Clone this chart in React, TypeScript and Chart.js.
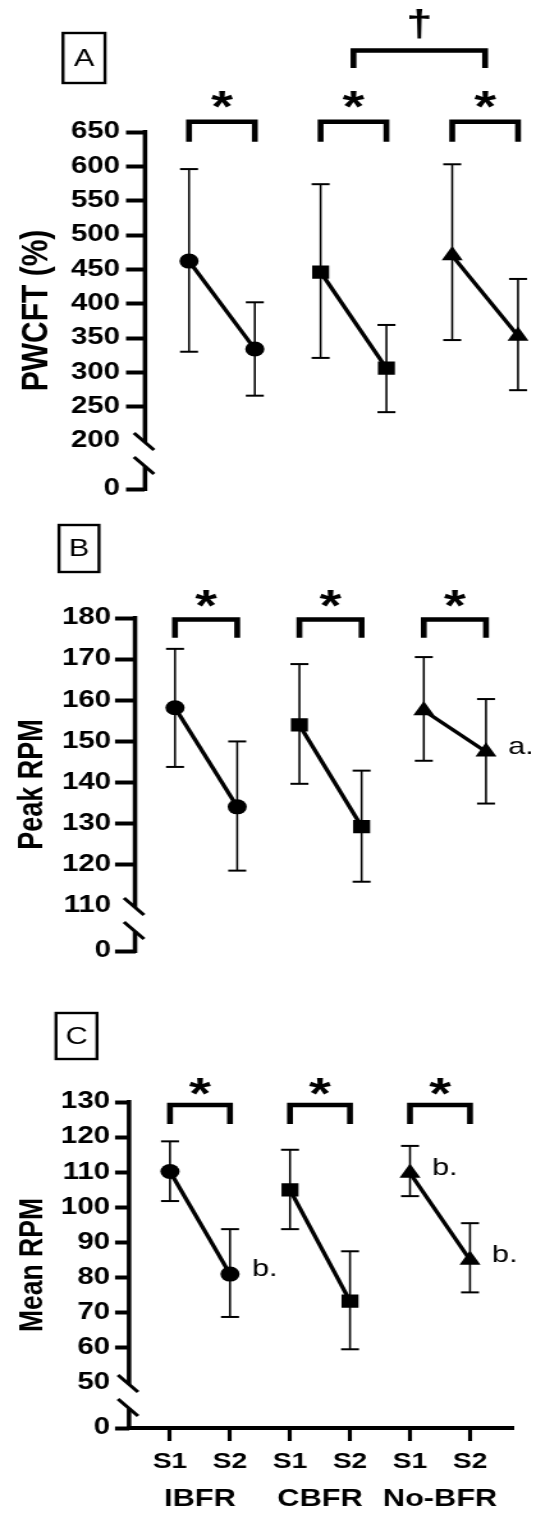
import React, { useEffect, useRef } from 'react';
import { Chart, registerables } from 'chart.js';

Chart.register(...registerables);

const PAGE_W = 559;
const PAGE_H = 1524;
const CW = 437;
const SX = PAGE_W / CW; // the figure is drawn horizontally stretched
const FONT = '"Liberation Sans", Arial, Helvetica, sans-serif';

// ---------- data ----------
const sessionLabels = ['S1', 'S2', 'S1', 'S2', 'S1', 'S2'];
const groupLabels = ['IBFR', 'CBFR', 'No-BFR'];
const markerStyles = ['circle', 'rect', 'triangle'];
const markerRadius = [7.5, 9.4, 9.5];

const pwcftMean = [462, 334, 446, 306, 470, 353];
const pwcftUpper = [596, 402, 574, 369, 603, 436];
const pwcftLower = [330, 266, 321, 242, 347, 274];
const pwcftTicks = [200, 250, 300, 350, 400, 450, 500, 550, 600, 650];

const peakMean = [158.2, 134.1, 154.0, 129.3, 157.5, 147.5];
const peakUpper = [172.5, 150.0, 168.8, 142.9, 170.5, 160.3];
const peakLower = [143.8, 118.6, 139.7, 115.9, 145.3, 134.9];
const peakTicks = [110, 120, 130, 140, 150, 160, 170, 180];

const meanRpmMean = [110.2, 81.0, 105.0, 73.3, 109.8, 85.0];
const meanRpmUpper = [118.8, 93.8, 116.4, 87.5, 117.5, 95.5];
const meanRpmLower = [101.8, 68.8, 93.8, 59.6, 103.2, 75.8];
const meanRpmTicks = [50, 60, 70, 80, 90, 100, 110, 120, 130];

const pwcftStars = ['*', '*', '*'];
const peakStars = ['*', '*', '*'];
const meanRpmStars = ['*', '*', '*'];
const pwcftBetween = { from: 1, to: 2, mark: '\u2020' };
const peakNotes = [{ index: 5, text: 'a.' }];
const meanRpmNotes = [
  { index: 1, text: 'b.' },
  { index: 4, text: 'b.' },
  { index: 5, text: 'b.' },
];

// ---------- layout (page pixels) ----------
const panels: any[] = [
  {
    id: 'A', letter: 'A', title: 'PWCFT (%)',
    mean: pwcftMean, upper: pwcftUpper, lower: pwcftLower, ticks: pwcftTicks,
    stars: pwcftStars, between: pwcftBetween, notes: [], showX: false,
    top: 0, height: 520,
    axisX: 145, chartTop: 132, breakY: 441, chartBottom: 489,
    firstX: 189, stepX: 65.8, rightX: 545,
    tickLen: 19, tickPad: 6, tickFont: 23,
    titleX: 37, titleFont: 30,
    box: [63, 33, 42, 50],
    bracketTop: -10.3, bracketLeg: 9.7, starY: -34.5,
    betweenTop: -81.5, betweenLeg: -64, betweenMarkY: -106, betweenFont: 37,
  },
  {
    id: 'B', letter: 'B', title: 'Peak RPM',
    mean: peakMean, upper: peakUpper, lower: peakLower, ticks: peakTicks,
    stars: peakStars, between: null, notes: peakNotes, showX: false,
    top: 520, height: 480,
    axisX: 135, chartTop: 618, breakY: 906, chartBottom: 951,
    firstX: 175, stepX: 62.2, rightX: 530,
    tickLen: 20, tickPad: 4, tickFont: 23,
    titleX: 33, titleFont: 27,
    box: [59, 525, 40, 47],
    bracketTop: 1.5, bracketLeg: 19.7, starY: -22,
  },
  {
    id: 'C', letter: 'C', title: 'Mean RPM',
    mean: meanRpmMean, upper: meanRpmUpper, lower: meanRpmLower, ticks: meanRpmTicks,
    stars: meanRpmStars, between: null, notes: meanRpmNotes, showX: true,
    top: 1000, height: 524,
    axisX: 129, chartTop: 1102, breakY: 1383, chartBottom: 1428,
    firstX: 170, stepX: 60, rightX: 513,
    tickLen: 14, tickPad: 5, tickFont: 23,
    titleX: 33, titleFont: 26.5,
    box: [56, 1013, 41, 46],
    bracketTop: 3, bracketLeg: 22, starY: -18,
    groupY: 1499,
  },
];

function line(ctx: CanvasRenderingContext2D, x1: number, y1: number, x2: number, y2: number) {
  ctx.beginPath();
  ctx.moveTo(x1, y1);
  ctx.lineTo(x2, y2);
  ctx.stroke();
}

function bracket(ctx: CanvasRenderingContext2D, x1: number, x2: number, top: number, leg: number) {
  ctx.beginPath();
  ctx.moveTo(x1, leg);
  ctx.lineTo(x1, top);
  ctx.lineTo(x2, top);
  ctx.lineTo(x2, leg);
  ctx.stroke();
}

function makeDecor(p: any) {
  return {
    id: 'decor' + p.id,
    beforeDatasetsDraw(chart: any) {
      const ctx = chart.ctx as CanvasRenderingContext2D;
      const xs = chart.scales.x;
      const ys = chart.scales.y;
      ctx.save();
      ctx.strokeStyle = '#000';
      ctx.lineCap = 'butt';
      p.mean.forEach((_m: number, i: number) => {
        const x = xs.getPixelForValue(i);
        const yU = ys.getPixelForValue(p.upper[i]);
        const yL = ys.getPixelForValue(p.lower[i]);
        ctx.lineWidth = 2 / SX;
        line(ctx, x, yU, x, yL);
        ctx.lineWidth = 2;
        const hw = 9 / SX;
        line(ctx, x - hw, yU, x + hw, yU);
        line(ctx, x - hw, yL, x + hw, yL);
      });
      ctx.restore();
    },
    afterDraw(chart: any) {
      const ctx = chart.ctx as CanvasRenderingContext2D;
      const area = chart.chartArea;
      const xs = chart.scales.x;
      const ys = chart.scales.y;
      const y0 = chart.scales.y0;
      const ax = area.left;
      ctx.save();
      ctx.strokeStyle = '#000';
      ctx.fillStyle = '#000';
      ctx.lineCap = 'butt';

      // broken y axis
      const b = ys.bottom;
      ctx.lineWidth = 4.5 / SX;
      line(ctx, ax, ys.getPixelForValue(ys.max) - 2, ax, b + 1.3);
      line(ctx, ax, b + 25.3, ax, y0.getPixelForValue(0) + 2);
      ctx.lineWidth = 3;
      line(ctx, ax - 11 / SX, b - 8, ax + 9 / SX, b + 9);
      line(ctx, ax - 11 / SX, b + 16, ax + 9 / SX, b + 33);

      // significance brackets
      const t0 = area.top;
      ctx.lineJoin = 'miter';
      p.stars.forEach((s: string, g: number) => {
        const x1 = xs.getPixelForValue(2 * g);
        const x2 = xs.getPixelForValue(2 * g + 1);
        ctx.lineWidth = 4.6;
        bracket(ctx, x1, x2, t0 + p.bracketTop, t0 + p.bracketLeg);
        ctx.font = `bold 44px ${FONT}`;
        ctx.textAlign = 'center';
        ctx.textBaseline = 'alphabetic';
        ctx.fillText(s, (x1 + x2) / 2, t0 + p.starY + 0.56 * 44);
      });
      if (p.between) {
        const f = p.between.from, t = p.between.to;
        const xa = (xs.getPixelForValue(2 * f) + xs.getPixelForValue(2 * f + 1)) / 2;
        const xb = (xs.getPixelForValue(2 * t) + xs.getPixelForValue(2 * t + 1)) / 2;
        ctx.lineWidth = 4.6;
        bracket(ctx, xa, xb, t0 + p.betweenTop, t0 + p.betweenLeg);
        ctx.font = `bold ${p.betweenFont}px ${FONT}`;
        ctx.textAlign = 'center';
        ctx.textBaseline = 'alphabetic';
        ctx.fillText(p.between.mark, (xa + xb) / 2, t0 + p.betweenMarkY + 0.28 * p.betweenFont);
      }

      // panel letter box
      const [bx, by, bw, bh] = p.box;
      ctx.lineWidth = 2.4;
      ctx.strokeRect(bx / SX, by - p.top, bw / SX, bh);
      ctx.font = `24px ${FONT}`;
      ctx.textAlign = 'center';
      ctx.textBaseline = 'middle';
      ctx.fillText(p.letter, (bx + bw / 2) / SX, by - p.top + bh / 2 + 1);

      // y title
      ctx.save();
      ctx.translate(p.titleX / SX, (area.top + area.bottom) / 2);
      ctx.rotate(-Math.PI / 2);
      ctx.font = `bold ${p.titleFont}px ${FONT}`;
      ctx.textAlign = 'center';
      ctx.textBaseline = 'middle';
      ctx.fillText(p.title, 0, 0);
      ctx.restore();

      // notes
      ctx.font = `24px ${FONT}`;
      ctx.textAlign = 'left';
      ctx.textBaseline = 'alphabetic';
      p.notes.forEach((n: any) => {
        ctx.fillText(n.text, xs.getPixelForValue(n.index) + 22 / SX, ys.getPixelForValue(p.mean[n.index]) + 2);
      });

      // group labels
      if (p.showX) {
        ctx.font = `bold 24px ${FONT}`;
        ctx.textAlign = 'center';
        ctx.textBaseline = 'middle';
        groupLabels.forEach((g, gi) => {
          const xm = (xs.getPixelForValue(2 * gi) + xs.getPixelForValue(2 * gi + 1)) / 2;
          ctx.fillText(g, xm, p.groupY - p.top);
        });
      }
      ctx.restore();
    },
  };
}

function PanelChart({ p }: { p: any }) {
  const ref = useRef<HTMLCanvasElement | null>(null);
  useEffect(() => {
    if (!ref.current) return;
    const yMin = p.ticks[0];
    const yMax = p.ticks[p.ticks.length - 1];
    const xMin = -(p.firstX - p.axisX) / p.stepX;
    const xMax = (p.rightX - p.firstX) / p.stepX;
    const tickFont = { family: FONT, size: p.tickFont, weight: 'bold' as const };

    const datasets = groupLabels.map((g, gi) => ({
      label: g,
      data: [0, 1].map((k) => ({ x: gi * 2 + k, y: p.mean[gi * 2 + k] })),
      borderColor: '#000',
      backgroundColor: '#000',
      borderWidth: 3.4,
      pointStyle: markerStyles[gi] as any,
      pointRadius: markerRadius[gi],
      pointBorderWidth: 0,
      pointBackgroundColor: '#000',
      tension: 0,
      xAxisID: 'x',
      yAxisID: 'y',
    }));

    const yGrid = (len: number, hideMin: boolean) => ({
      drawOnChartArea: false,
      drawTicks: true,
      tickLength: len,
      tickWidth: 4,
      tickColor: (c: any) => (hideMin && c.tick && c.tick.value === yMin ? 'rgba(0,0,0,0)' : '#000'),
    });

    const xScale: any = p.showX
      ? {
          type: 'linear',
          position: 'bottom',
          min: xMin,
          max: xMax,
          afterBuildTicks: (s: any) => {
            s.ticks = sessionLabels.map((_l, i) => ({ value: i }));
          },
          afterFit: (s: any) => {
            s.height = p.top + p.height - p.chartBottom;
          },
          ticks: {
            callback: (_v: any, i: number) => sessionLabels[i],
            font: { family: FONT, size: 22, weight: 'bold' },
            color: '#000',
            padding: 8,
            autoSkip: false,
            maxRotation: 0,
          },
          grid: { drawOnChartArea: false, tickLength: 13, tickWidth: 4 / SX, tickColor: '#000' },
          border: { display: true, color: '#000', width: 4 },
        }
      : { type: 'linear', min: xMin, max: xMax, display: false };

    const chart = new Chart(ref.current, {
      type: 'line',
      data: { datasets } as any,
      options: {
        animation: false,
        responsive: false,
        events: [],
        layout: {
          padding: {
            left: 0,
            top: p.chartTop - p.top,
            right: (PAGE_W - p.rightX) / SX,
            bottom: p.showX ? 0 : p.top + p.height - p.chartBottom,
          },
        },
        plugins: { legend: { display: false }, tooltip: { enabled: false }, title: { display: false } },
        scales: {
          x: xScale,
          y: {
            type: 'linear',
            position: 'left',
            stack: 'yStack',
            stackWeight: p.breakY - p.chartTop,
            weight: 2,
            min: yMin,
            max: yMax,
            afterBuildTicks: (s: any) => {
              s.ticks = p.ticks.map((v: number) => ({ value: v }));
            },
            afterFit: (s: any) => {
              s.width = p.axisX / SX;
            },
            ticks: { font: tickFont, color: '#000', padding: p.tickPad / SX, autoSkip: false },
            grid: yGrid(p.tickLen / SX, true),
            border: { display: false },
          },
          y0: {
            type: 'linear',
            position: 'left',
            stack: 'yStack',
            stackWeight: p.chartBottom - p.breakY,
            weight: 1,
            min: 0,
            max: 1,
            afterBuildTicks: (s: any) => {
              s.ticks = [{ value: 0 }];
            },
            afterFit: (s: any) => {
              s.width = p.axisX / SX;
            },
            ticks: { font: tickFont, color: '#000', padding: p.tickPad / SX, autoSkip: false },
            grid: yGrid(p.tickLen / SX, false),
            border: { display: false },
          },
        } as any,
      },
      plugins: [makeDecor(p)],
    });
    return () => chart.destroy();
  }, [p]);

  return (
    <canvas
      ref={ref}
      width={CW}
      height={p.height}
      style={{
        position: 'absolute',
        left: 0,
        top: p.top,
        width: CW + 'px',
        height: p.height + 'px',
        transform: `scaleX(${SX})`,
        transformOrigin: '0 0',
      }}
    />
  );
}

export default function App() {
  return (
    <div
      style={{
        position: 'absolute',
        left: 0,
        top: 0,
        width: PAGE_W,
        height: PAGE_H,
        background: '#fff',
        overflow: 'hidden',
      }}
    >
      {panels.map((p) => (
        <PanelChart key={p.id} p={p} />
      ))}
    </div>
  );
}
